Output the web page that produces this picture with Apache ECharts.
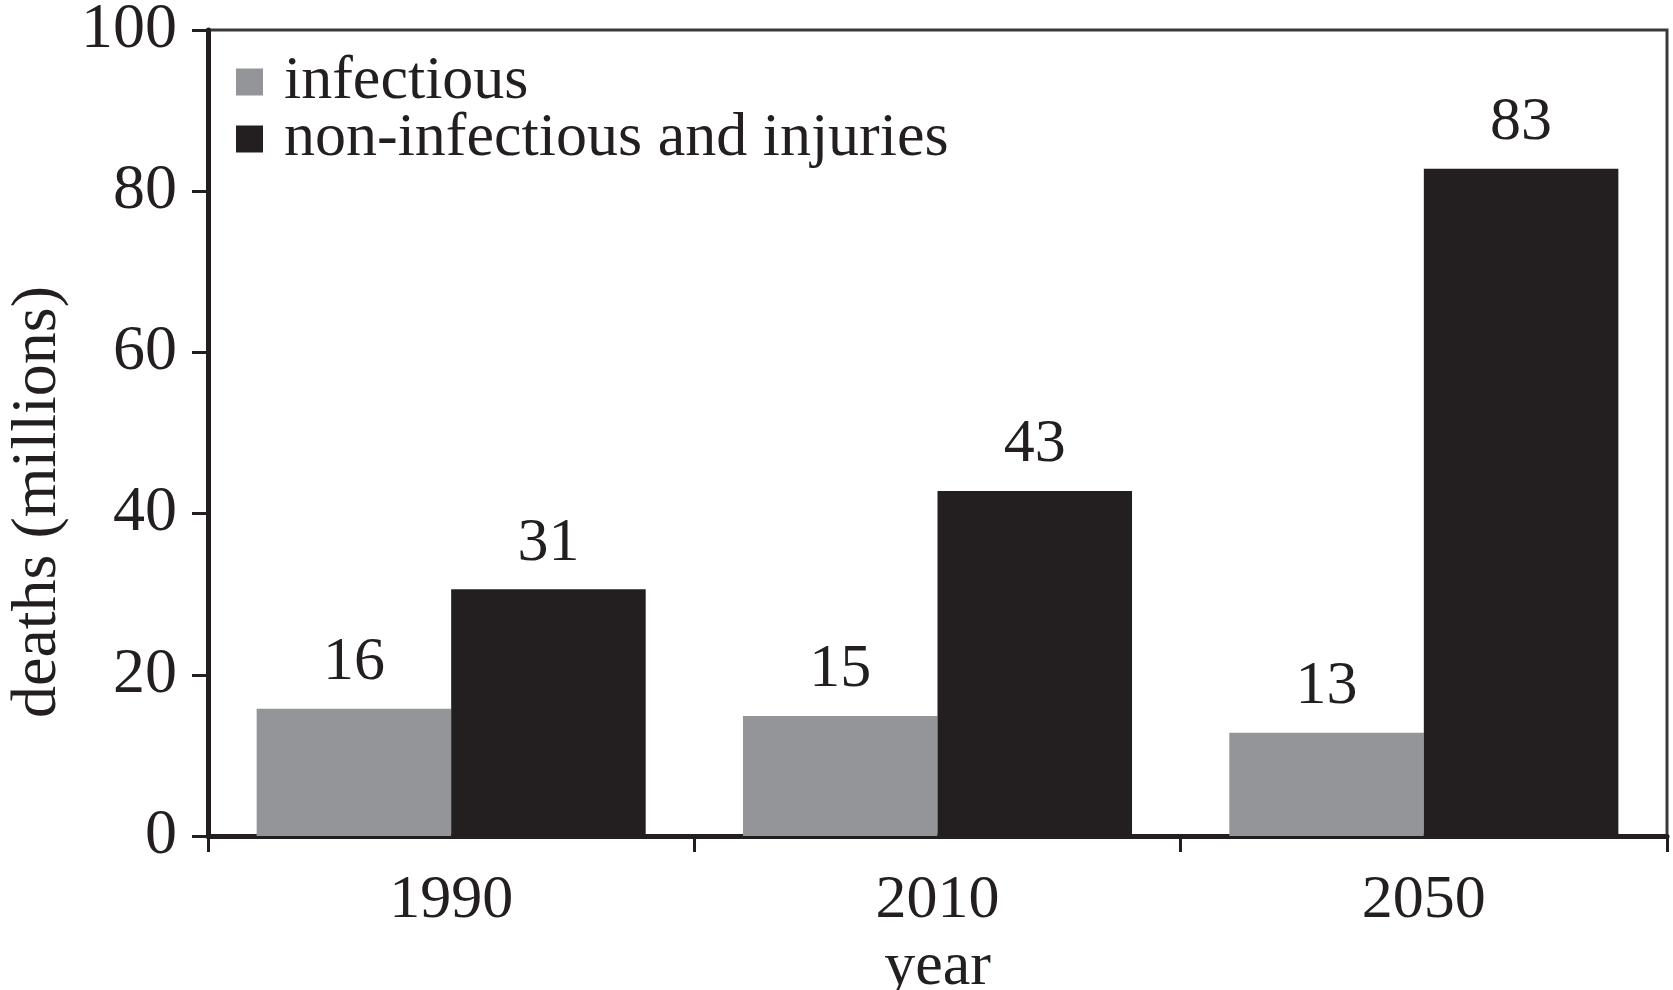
<!DOCTYPE html>
<html>
<head>
<meta charset="utf-8">
<title>deaths by year</title>
<script src="https://cdn.jsdelivr.net/npm/echarts@6/dist/echarts.min.js"></script>
<style>
    html, body { margin: 0; padding: 0; background: #fff; }
    #chart { width: 1673px; height: 990px; }
</style>
</head>
<body>
<div id="chart"></div>
<script>
// data
const years = ['1990', '2010', '2050']
const infectious = [15.8, 14.9, 12.8]
const nonInfectious = [30.6, 42.8, 82.8]
const yTicks = [0, 20, 40, 60, 80, 100]

const serif = '"Liberation Serif", "DejaVu Serif", serif'
const ink = '#231f20'

const chart = echarts.init(document.getElementById('chart'))

const labelStyle = {
    show: true,
    position: 'top',
    distance: 15,
    fontFamily: serif,
    fontSize: 62,
    color: ink,
    formatter: p => Math.round(p.value)
}

const option = {
    backgroundColor: '#fff',
    animation: false,
    grid: {
        left: 208,
        right: 6,
        top: 30,
        bottom: 154,
        outerBoundsMode: 'none', // keep the grid where it is, labels may go near the edge
        show: true,
        borderColor: '#3a3a3a',
        borderWidth: 3
    },
    legend: {
        orient: 'vertical',
        left: 231,
        top: 46,
        itemWidth: 27,
        itemHeight: 27,
        itemGap: -5,
        icon: 'rect',
        textStyle: {
            fontFamily: serif,
            fontSize: 62,
            lineHeight: 56,
            color: ink,
            padding: [0, 0, 0, 16]
        },
        data: ['infectious', 'non-infectious and injuries']
    },
    xAxis: {
        type: 'category',
        data: years,
        name: 'year',
        nameLocation: 'middle',
        nameGap: 93,
        nameTextStyle: { fontFamily: serif, fontSize: 62, color: ink },
        axisLine: { lineStyle: { color: ink, width: 5 } },
        axisTick: { show: true, length: 16, lineStyle: { color: ink, width: 3 } },
        axisLabel: { fontFamily: serif, fontSize: 62, color: ink, margin: 34 }
    },
    yAxis: {
        type: 'value',
        min: yTicks[0],
        max: yTicks[yTicks.length - 1],
        interval: yTicks[1] - yTicks[0],
        name: 'deaths (millions)',
        nameLocation: 'middle',
        nameGap: 121,
        nameRotate: 90,
        nameTextStyle: { fontFamily: serif, fontSize: 64, color: ink, padding: [0, 138, 0, 0] },
        axisLine: { show: true, lineStyle: { color: ink, width: 5 } },
        axisTick: { show: true, length: 16, lineStyle: { color: ink, width: 3 } },
        axisLabel: { fontFamily: serif, fontSize: 64, color: ink, margin: 31 },
        splitLine: { show: false }
    },
    series: [
        {
            name: 'infectious',
            type: 'bar',
            data: infectious,
            barGap: '0%',
            barCategoryGap: '20%',
            itemStyle: { color: '#939598' },
            label: labelStyle
        },
        {
            name: 'non-infectious and injuries',
            type: 'bar',
            data: nonInfectious,
            barGap: '0%',
            barCategoryGap: '20%',
            itemStyle: { color: ink },
            label: labelStyle
        }
    ]
}

chart.setOption(option)
</script>
</body>
</html>
